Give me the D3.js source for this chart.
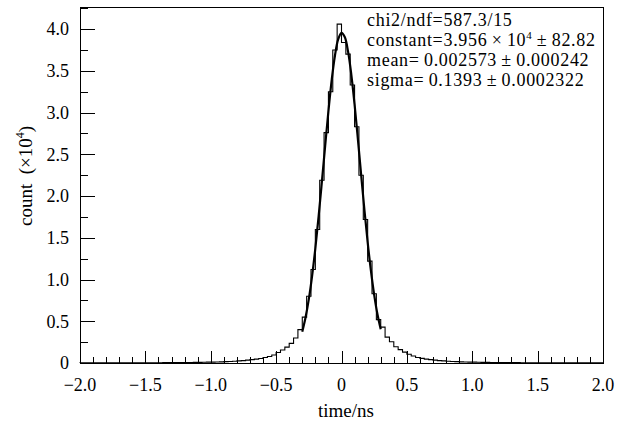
<!DOCTYPE html>
<meta charset="utf-8">
<style>
body {
  margin: 0;
  background-color: #ffffff;
}
text {
  font-family: 'Liberation Serif', 'Times New Roman', serif;
  fill: #000;
}
.tick-label {
  font-size: 18px;
}
.axis-title {
  font-size: 19px;
}
.stats {
  font-size: 18px;
  letter-spacing: 0.7px;
}
.frame {
  fill: none;
  stroke: #000;
  stroke-width: 1px;
  shape-rendering: crispEdges;
}
.tick {
  stroke: #000;
  stroke-width: 1px;
  shape-rendering: crispEdges;
}
.hist {
  fill: none;
  stroke: #000;
  stroke-width: 1.1px;
}
.fit {
  fill: none;
  stroke: #000;
  stroke-width: 2.2px;
}
</style>
<svg width="618" height="423"></svg>
<script src="https://d3js.org/d3.v7.min.js"></script>
<script>
// histogram: 120 bins of width 1/30 from -2 to 2, counts in units of 10^4
var binLow = -2.0, binHigh = 2.0;
var counts = [
  0.001, 0.001, 0.001, 0.001, 0.001, 0.001, 0.001, 0.002, 0.001, 0.002,
  0.002, 0.002, 0.002, 0.002, 0.003, 0.002, 0.003, 0.003, 0.003, 0.004,
  0.004, 0.004, 0.005, 0.005, 0.006, 0.006, 0.007, 0.008, 0.009, 0.010,
  0.011, 0.012, 0.014, 0.016, 0.018, 0.021, 0.025, 0.029, 0.034, 0.040,
  0.046, 0.054, 0.065, 0.078, 0.095, 0.125, 0.155, 0.190, 0.235, 0.300,
  0.400,
  0.55, 0.80, 1.12, 1.60, 2.19, 2.76, 3.25, 3.75, 4.06,
  3.84, 3.70, 3.33, 2.83, 2.25, 1.72, 1.22, 0.83, 0.52,
  0.430, 0.310, 0.255, 0.195, 0.160, 0.130, 0.105, 0.084, 0.066, 0.055,
  0.047, 0.040, 0.034, 0.029, 0.025, 0.021, 0.018, 0.016, 0.014, 0.012,
  0.011,
  0.010, 0.009, 0.008, 0.007, 0.006, 0.006, 0.005, 0.005, 0.004, 0.004,
  0.004, 0.003, 0.003, 0.003, 0.002, 0.003, 0.002, 0.002, 0.002, 0.002,
  0.002, 0.001, 0.001, 0.002, 0.001, 0.001, 0.001, 0.001, 0.001, 0.001
];

// gaussian fit curve
var fitX = [-0.300, -0.275, -0.250, -0.225, -0.200, -0.175, -0.150, -0.125, -0.100,
  -0.075, -0.050, -0.025, 0.000, 0.025, 0.050, 0.075, 0.100, 0.125, 0.150, 0.175,
  0.200, 0.225, 0.250, 0.275, 0.300];
var fitY = [0.374, 0.544, 0.765, 1.042, 1.374, 1.756, 2.172, 2.601, 3.017,
  3.388, 3.684, 3.879, 3.955, 3.905, 3.733, 3.456, 3.098, 2.689, 2.260, 1.839,
  1.449, 1.106, 0.817, 0.584, 0.405];

var xTicks = [-2.0, -1.5, -1.0, -0.5, 0, 0.5, 1.0, 1.5, 2.0];
var xTickLabels = ["\u22122.0", "\u22121.5", "\u22121.0", "\u22120.5", "0", "0.5", "1.0", "1.5", "2.0"];
var yTicks = [0, 0.5, 1.0, 1.5, 2.0, 2.5, 3.0, 3.5, 4.0];
var yTickLabels = ["0", "0.5", "1.0", "1.5", "2.0", "2.5", "3.0", "3.5", "4.0"];

var svg = d3.select("svg"),
    margin = {top: 7, right: 15, bottom: 60, left: 80},
    width = +svg.attr("width") - margin.left - margin.right,
    height = +svg.attr("height") - margin.top - margin.bottom;

var x = d3.scaleLinear().domain([-2, 2]).range([0, width]);
var y = d3.scaleLinear().domain([0, 4.265]).range([height, 0]);

var g = svg.append("g")
    .attr("transform", "translate(" + margin.left + "," + margin.top + ")");

// minor / major ticks, drawn inward
var xMinor = d3.range(-20, 21).map(function(i) { return i / 10; });
g.selectAll(".xminor")
    .data(xMinor)
  .enter().append("line")
    .attr("class", "tick")
    .attr("x1", function(d) { return Math.round(x(d)) + 0.5; })
    .attr("x2", function(d) { return Math.round(x(d)) + 0.5; })
    .attr("y1", height)
    .attr("y2", function(d) { return Math.abs(d * 2 - Math.round(d * 2)) < 1e-6 ? height - 12 : height - 6; });

var yMinor = d3.range(0, 18).map(function(i) { return i / 4; }).filter(function(d) { return d <= 4.25; });
g.selectAll(".yminor")
    .data(yMinor)
  .enter().append("line")
    .attr("class", "tick")
    .attr("y1", function(d) { return Math.round(y(d)) + 0.5; })
    .attr("y2", function(d) { return Math.round(y(d)) + 0.5; })
    .attr("x1", 0)
    .attr("x2", function(d) { return Math.abs(d * 2 - Math.round(d * 2)) < 1e-6 ? 15 : 8; });

g.append("rect")
    .attr("class", "frame")
    .attr("x", 0.5)
    .attr("y", 0.5)
    .attr("width", width)
    .attr("height", height);

// tick labels
g.selectAll(".xlab")
    .data(xTicks)
  .enter().append("text")
    .attr("class", "tick-label")
    .attr("x", function(d) { return x(d); })
    .attr("y", height + 28)
    .attr("text-anchor", "middle")
    .text(function(d, i) { return xTickLabels[i]; });

g.selectAll(".ylab")
    .data(yTicks)
  .enter().append("text")
    .attr("class", "tick-label")
    .attr("x", -11)
    .attr("y", function(d) { return y(d); })
    .attr("dy", "0.35em")
    .attr("text-anchor", "end")
    .text(function(d, i) { return yTickLabels[i]; });

// histogram outline
var steps = counts.map(function(v, i) {
  return {t: binLow + i * (binHigh - binLow) / counts.length, v: v};
});
steps.unshift({t: binLow, v: 0});
steps.push({t: binHigh, v: counts[counts.length - 1]});

g.append("path")
    .datum(steps)
    .attr("class", "hist")
    .attr("d", d3.line()
      .curve(d3.curveStepAfter)
      .x(function(d) { return x(d.t); })
      .y(function(d) { return y(d.v); }));

// fit
g.append("path")
    .datum(fitX.map(function(t, i) { return [t, fitY[i]]; }))
    .attr("class", "fit")
    .attr("d", d3.line()
      .curve(d3.curveCatmullRom)
      .x(function(d) { return x(d[0]); })
      .y(function(d) { return y(d[1]); }));

// axis titles
svg.append("text")
    .attr("class", "axis-title")
    .attr("x", 346)
    .attr("y", 417)
    .attr("text-anchor", "middle")
    .text("time/ns");

var yt = svg.append("text")
    .attr("class", "axis-title")
    .attr("transform", "translate(32,176) rotate(-90)")
    .attr("text-anchor", "middle");
yt.append("tspan").text("count\u2002(\u00d710");
yt.append("tspan").attr("dy", -8).attr("font-size", "12px").text("4");
yt.append("tspan").attr("dy", 8).text(")");

// fit statistics
var stats = svg.append("g").attr("transform", "translate(367,0)");
stats.append("text").attr("class", "stats").attr("y", 26).text("chi2/ndf=587.3/15");
var c = stats.append("text").attr("class", "stats").attr("y", 46);
c.append("tspan").text("constant=3.956\u2009\u00d7\u200910");
c.append("tspan").attr("dy", -7).attr("font-size", "11px").text("4");
c.append("tspan").attr("dy", 7).text("\u2009\u00b1\u200982.82");
stats.append("text").attr("class", "stats").attr("y", 66).text("mean=\u20090.002573\u2009\u00b1\u20090.000242");
stats.append("text").attr("class", "stats").attr("y", 86).text("sigma=\u20090.1393\u2009\u00b1\u20090.0002322");
</script>
